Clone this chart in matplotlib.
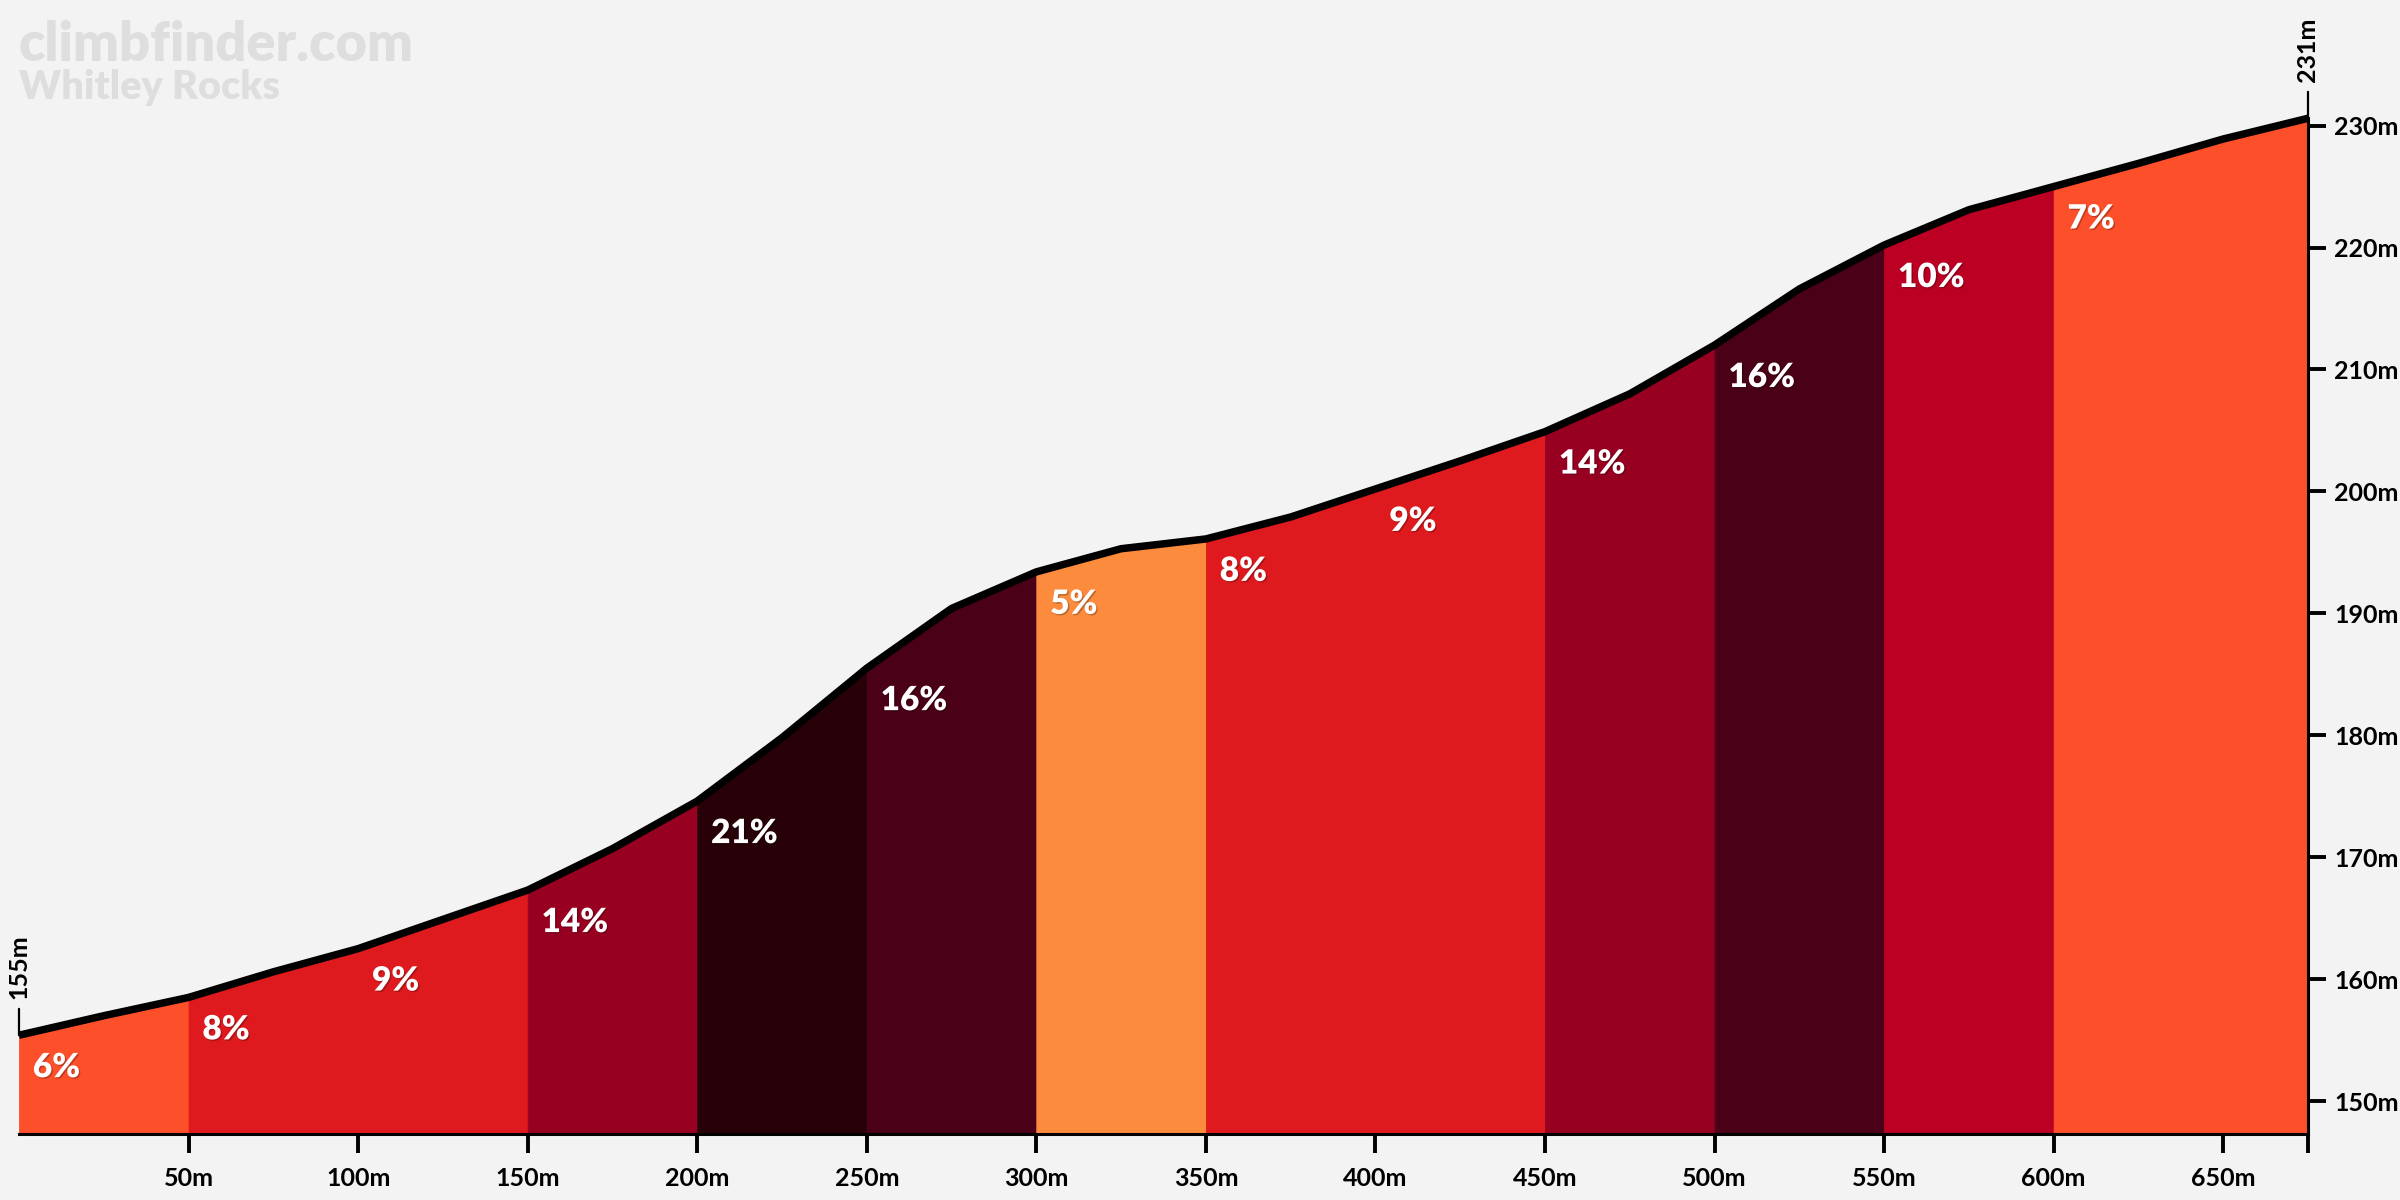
import matplotlib
matplotlib.use("Agg")
import matplotlib.pyplot as plt
import matplotlib.patheffects as pe
import numpy as np

# ---- data ----
distance_m = [0, 25, 50, 75, 100, 125, 150, 175, 200, 225, 250, 275, 300, 325,
              350, 375, 400, 425, 450, 475, 500, 525, 550, 575, 600, 625, 650, 675]
elevation_m = [155.4, 157.0, 158.5, 160.6, 162.5, 164.9, 167.3, 170.7, 174.6, 179.8,
               185.5, 190.4, 193.4, 195.3, 196.1, 197.9, 200.2, 202.5, 204.9, 208.0,
               212.0, 216.6, 220.2, 223.1, 225.0, 226.9, 228.9, 230.6]
segment_starts = [0, 50, 100, 150, 200, 250, 300, 350, 400, 450, 500, 550, 600]
segment_ends = [50, 100, 150, 200, 250, 300, 350, 400, 450, 500, 550, 600, 675]
gradients_pct = [6, 8, 9, 14, 21, 16, 5, 8, 9, 14, 16, 10, 7]
x_ticks = [50, 100, 150, 200, 250, 300, 350, 400, 450, 500, 550, 600, 650]
y_ticks = [150, 160, 170, 180, 190, 200, 210, 220, 230]
start_label = "155m"
end_label = "231m"
title = "climbfinder.com"
subtitle = "Whitley Rocks"

# ---- style ----
def grad_color(g):
    if g <= 5:
        return "#fd8b3d"
    if g <= 7:
        return "#fe4f2b"
    if g <= 9:
        return "#df1a1e"
    if g <= 12:
        return "#bb0024"
    if g <= 15:
        return "#970020"
    if g <= 19:
        return "#4a0016"
    return "#270008"

FONT = ["Lato", "DejaVu Sans"]
plt.rcParams["font.family"] = FONT
BG = "#f3f3f3"

fig = plt.figure(figsize=(24, 12), dpi=100, facecolor=BG)
ax = fig.add_axes([19 / 2400, 66 / 1200, (2308 - 19) / 2400, 1 - 66 / 1200])
ax.set_facecolor(BG)

x = np.array(distance_m, dtype=float)
y = np.array(elevation_m, dtype=float)
ymin = 147.3
ymax = 240.3

# merge consecutive segments sharing a colour so no seams appear
bands = []
for s, e, g in zip(segment_starts, segment_ends, gradients_pct):
    c = grad_color(g)
    if bands and bands[-1][2] == c and bands[-1][1] == s:
        bands[-1][1] = e
    else:
        bands.append([s, e, c])

for s, e, c in bands:
    m = (x >= s) & (x <= e)
    ax.fill_between(x[m], y[m], ymin, facecolor=c, edgecolor=c, lw=0.6, zorder=1)

ax.plot(x, y, color="black", lw=5.4, solid_capstyle="butt", solid_joinstyle="round", zorder=3)

for s, g in zip(segment_starts, gradients_pct):
    ys = np.interp(s, x, y)
    ax.annotate(f"{g}%", xy=(s, ys), xytext=(10, -23), textcoords="offset points",
                ha="left", va="center", color="white", fontsize=24, fontweight="heavy",
                zorder=4,
                path_effects=[pe.withSimplePatchShadow(offset=(1, -1), shadow_rgbFace="#000000", alpha=0.25)])

ax.set_xlim(0, distance_m[-1])
ax.set_ylim(ymin, ymax)

# axes styling
for sp in ["top", "left"]:
    ax.spines[sp].set_visible(False)
ax.spines["bottom"].set_linewidth(2.2)
ax.spines["right"].set_linewidth(2.2)
ax.spines["right"].set_bounds(ymin, elevation_m[-1])
ax.spines["right"].set_zorder(5)

ax.set_xticks(x_ticks + [distance_m[-1]])
ax.set_xticklabels([f"{t}m" for t in x_ticks] + [""])
ax.yaxis.tick_right()
ax.set_yticks(y_ticks)
ax.set_yticklabels([f"{t}m" for t in y_ticks])
ax.tick_params(axis="x", length=14, width=2.8, pad=10, labelsize=18, colors="black")
ax.tick_params(axis="y", length=13, width=2.8, pad=6, labelsize=18, colors="black")
for lab in ax.get_xticklabels() + ax.get_yticklabels():
    lab.set_fontweight("bold")

# start / end elevation markers
for xe, ye, lab in [(distance_m[0], elevation_m[0], start_label),
                    (distance_m[-1], elevation_m[-1], end_label)]:
    ax.annotate(lab, xy=(xe, ye), xytext=(0, 26), textcoords="offset points",
                rotation=90, ha="center", va="bottom", fontsize=18, fontweight="bold",
                color="black", annotation_clip=False,
                arrowprops=dict(arrowstyle="-", lw=1.6, color="black", shrinkA=5, shrinkB=0))

fig.text(19 / 2400, 1 - 61 / 1200, title, fontsize=39, fontweight="heavy", color="#dedede",
         ha="left", va="baseline")
fig.text(19 / 2400, 1 - 99 / 1200, subtitle, fontsize=28.5, fontweight="heavy", color="#dedede",
         ha="left", va="baseline")

fig.savefig("out.png", dpi=100, facecolor=BG)
